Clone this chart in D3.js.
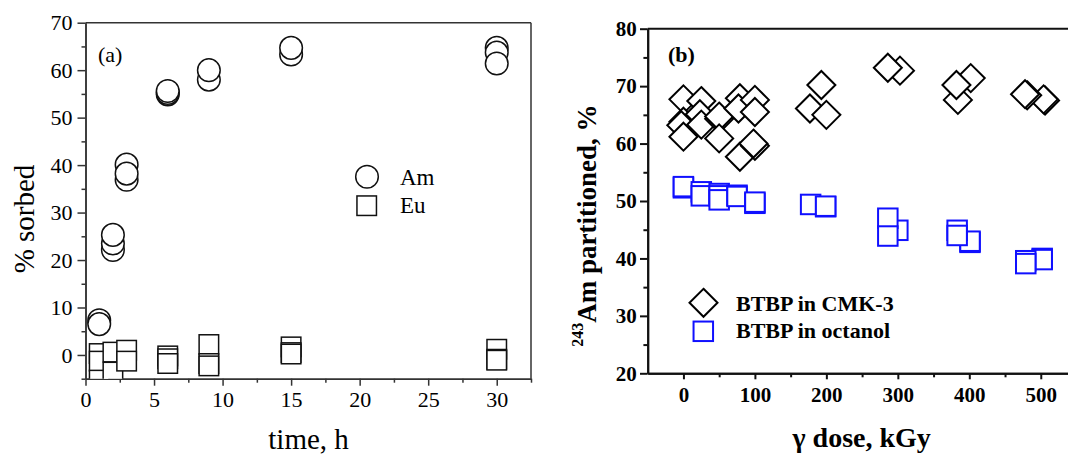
<!DOCTYPE html>
<html><head><meta charset="utf-8">
<script src="https://cdn.jsdelivr.net/npm/d3@7"></script>
<style>
body{margin:0;background:#fff;}
svg{display:block;}
text{font-family:"Liberation Serif","Times New Roman",serif;}
</style>
</head><body>
<svg id="c" width="1068" height="457"></svg>
<script>
// ---------- Panel (a) data ----------
const timeAm = [1,1, 2,2,2, 3,3,3, 6,6,6, 9,9, 15,15, 30,30,30];
const amSorbed = [7.3,6.5, 22.1,23.5,25.3, 36.9,40.1,38.2, 54.9,55.2,55.6, 58.0,60.0, 63.3,64.7, 64.7,63.7,61.4];
const timeEu = [1,1,1, 2,2, 3,3, 6,6,6, 9,9,9, 15,15,15, 30,30,30];
const euSorbed = [0.3,-1.3,-5.3, 0.6,-3.6, 1.0,-1.3, -0.2,-0.8,-1.8, 2.2,-1.8,-2.3, 1.7,0.5,0.2, 1.2,-0.9,-1.1];
const xTicksA = [0,5,10,15,20,25,30];
const xMinorA = [2.5,7.5,12.5,17.5,22.5,27.5,32.5];
const yTicksA = [0,10,20,30,40,50,60,70];
const yMinorA = [-5,5,15,25,35,45,55,65];
const legendA = ["Am","Eu"];

// ---------- Panel (b) data ----------
const doseCMK = [0,0,-3,0, 25,23,25, 50,50,50, 79,77,79, 100,100,100,98, 177,193,200, 303,286, 402,384,382, 506,504,481,478];
const amCMK   = [67.7,63.8,63.2,61.2, 67.4,65.1,63.3, 64.3,64.7,60.9, 67.9,66.1,57.7, 67.6,65.5,59.6,60.0, 66.1,70.2,65.0, 72.7,73.2, 71.4,67.6,70.2, 67.5,67.7,68.4,68.6];
const doseOct = [0,0, 25,25, 50,50,50, 75,75, 100,100, 178, 199,199, 300,286,286, 401,401,383,383, 502,502,479,479];
const amOct   = [52.3,52.5, 51.6,50.9, 51.3,50.9,50.2, 51.0,50.8, 49.6,49.8, 49.4, 49.0,49.1, 44.9,47.0,43.9, 42.8,43.0,44.9,44.0, 40.0,39.8,39.6,39.1];
const xTicksB = [0,100,200,300,400,500];
const xMinorB = [50,150,250,350,450,550];
const yTicksB = [20,30,40,50,60,70,80];
const yMinorB = [25,35,45,55,65,75];
const legendB = ["BTBP in CMK-3","BTBP in octanol"];

const svg = d3.select("#c");
const BLUE = "#1010ff";

// ================= Panel (a) =================
const xA = d3.scaleLinear().domain([0,32.5]).range([85.5,531]);
const yA = d3.scaleLinear().domain([-5,70]).range([378.7,22.7]);
const gA = svg.append("g");
const axColA = "#333";

gA.append("defs").append("clipPath").attr("id","clipA")
  .append("rect").attr("x",xA(0)).attr("y",yA(70)).attr("width",xA(32.5)-xA(0)).attr("height",yA(-5)-yA(70));

// frame top/right
gA.append("line").attr("x1",xA(0)).attr("x2",xA(32.5)).attr("y1",yA(70)).attr("y2",yA(70)).attr("stroke",axColA).attr("stroke-width",1.5);
gA.append("line").attr("x1",xA(32.5)).attr("x2",xA(32.5)).attr("y1",yA(70)).attr("y2",yA(-5)).attr("stroke",axColA).attr("stroke-width",1.5);

function styleAxis(g, col, w, fs, weight){
  g.select(".domain").attr("stroke",col).attr("stroke-width",w);
  g.selectAll(".tick line").attr("stroke",col).attr("stroke-width",w);
  g.selectAll(".tick text").attr("fill","#000").style("font-size",fs+"px").style("font-weight",weight)
    .style("font-family",'"Liberation Serif","Times New Roman",serif');
}
const axBA = gA.append("g").attr("transform",`translate(0,${yA(-5)})`)
  .call(d3.axisBottom(xA).tickValues(xTicksA).tickSize(7).tickSizeOuter(0).tickPadding(6).tickFormat(d3.format("d")));
styleAxis(axBA, axColA, 1.5, 22, "normal");
const axBAm = gA.append("g").attr("transform",`translate(0,${yA(-5)})`)
  .call(d3.axisBottom(xA).tickValues(xMinorA).tickSize(4).tickSizeOuter(0).tickFormat(""));
styleAxis(axBAm, axColA, 1.5, 22, "normal");
const axLA = gA.append("g").attr("transform",`translate(${xA(0)},0)`)
  .call(d3.axisLeft(yA).tickValues(yTicksA).tickSize(8).tickSizeOuter(0).tickPadding(5).tickFormat(d3.format("d")));
styleAxis(axLA, axColA, 1.5, 22, "normal");
const axLAm = gA.append("g").attr("transform",`translate(${xA(0)},0)`)
  .call(d3.axisLeft(yA).tickValues(yMinorA).tickSize(4).tickSizeOuter(0).tickFormat(""));
styleAxis(axLAm, axColA, 1.5, 22, "normal");

const mA = gA.append("g").attr("clip-path","url(#clipA)");
const SQ = 19.5;
mA.selectAll("rect.eu").data(euSorbed).join("rect").attr("class","eu")
  .attr("x",(d,i)=>xA(timeEu[i])-SQ/2).attr("y",d=>yA(d)-SQ/2)
  .attr("width",SQ).attr("height",SQ).attr("fill","#fff").attr("stroke","#111").attr("stroke-width",1.5);
mA.selectAll("circle.am").data(amSorbed).join("circle").attr("class","am")
  .attr("cx",(d,i)=>xA(timeAm[i])).attr("cy",d=>yA(d)).attr("r",11.3)
  .attr("fill","#fff").attr("stroke","#111").attr("stroke-width",1.5);

// legend (a)
gA.append("circle").attr("cx",367).attr("cy",176.7).attr("r",11.3).attr("fill","#fff").attr("stroke","#111").attr("stroke-width",1.5);
gA.append("rect").attr("x",366.7-SQ/2).attr("y",205.7-SQ/2).attr("width",SQ).attr("height",SQ).attr("fill","#fff").attr("stroke","#111").attr("stroke-width",1.5);
gA.append("text").attr("x",400).attr("y",184.5).style("font-size","23px").text(legendA[0]);
gA.append("text").attr("x",400).attr("y",213.3).style("font-size","23px").text(legendA[1]);
gA.append("text").attr("x",98).attr("y",62).style("font-size","22px").text("(a)");

// titles (a)
gA.append("text").attr("x",308.6).attr("y",449).attr("text-anchor","middle").style("font-size","29px").text("time, h");
gA.append("text").attr("transform","translate(34,219) rotate(-90)").attr("text-anchor","middle").style("font-size","29px").text("% sorbed");

// ================= Panel (b) =================
const xB = d3.scaleLinear().domain([-50,550]).range([647.7,1076.5]);
const yB = d3.scaleLinear().domain([20,80]).range([373.3,28.7]);
const gB = svg.append("g");

gB.append("line").attr("x1",xB(-50)).attr("x2",xB(550)).attr("y1",yB(80)).attr("y2",yB(80)).attr("stroke","#111").attr("stroke-width",2);
gB.append("line").attr("x1",xB(550)).attr("x2",xB(550)).attr("y1",yB(80)).attr("y2",yB(20)).attr("stroke","#111").attr("stroke-width",2);

const axBB = gB.append("g").attr("transform",`translate(0,${yB(20)})`)
  .call(d3.axisBottom(xB).tickValues(xTicksB).tickSize(6).tickSizeOuter(0).tickPadding(7.5).tickFormat(d3.format("d")));
styleAxis(axBB, "#111", 2, 21, "bold");
const axBBm = gB.append("g").attr("transform",`translate(0,${yB(20)})`)
  .call(d3.axisBottom(xB).tickValues(xMinorB).tickSize(4).tickSizeOuter(0).tickFormat(""));
styleAxis(axBBm, "#111", 2, 21, "bold");
const axLB = gB.append("g").attr("transform",`translate(${xB(-50)},0)`)
  .call(d3.axisLeft(yB).tickValues(yTicksB).tickSize(7.7).tickSizeOuter(0).tickPadding(3.3).tickFormat(d3.format("d")));
styleAxis(axLB, "#111", 2, 21, "bold");
const axLBm = gB.append("g").attr("transform",`translate(${xB(-50)},0)`)
  .call(d3.axisLeft(yB).tickValues(yMinorB).tickSize(4.3).tickSizeOuter(0).tickFormat(""));
styleAxis(axLBm, "#111", 2, 21, "bold");

const DH = 14; // diamond half-diagonal
const diamond = (cx,cy)=>`M${cx},${cy-DH}L${cx+DH},${cy}L${cx},${cy+DH}L${cx-DH},${cy}Z`;
gB.selectAll("path.cmk").data(amCMK).join("path").attr("class","cmk")
  .attr("d",(d,i)=>diamond(xB(doseCMK[i]),yB(d)))
  .attr("fill","#fff").attr("stroke","#000").attr("stroke-width",2);
gB.selectAll("rect.oct").data(amOct).join("rect").attr("class","oct")
  .attr("x",(d,i)=>xB(doseOct[i])-SQ/2).attr("y",d=>yB(d)-SQ/2)
  .attr("width",SQ).attr("height",SQ).attr("fill","#fff").attr("stroke",BLUE).attr("stroke-width",2);

// legend (b)
gB.append("path").attr("d",diamond(703.5,302.8)).attr("fill","#fff").attr("stroke","#000").attr("stroke-width",2);
gB.append("rect").attr("x",703.3-SQ/2).attr("y",331.3-SQ/2).attr("width",SQ).attr("height",SQ).attr("fill","#fff").attr("stroke",BLUE).attr("stroke-width",2);
gB.append("text").attr("x",736).attr("y",310.7).style("font-size","22px").style("font-weight","bold").text(legendB[0]);
gB.append("text").attr("x",736).attr("y",338.3).style("font-size","22px").style("font-weight","bold").text(legendB[1]);
gB.append("text").attr("x",668).attr("y",62).style("font-size","22px").style("font-weight","bold").text("(b)");

// titles (b)
gB.append("text").attr("x",861.7).attr("y",447).attr("text-anchor","middle")
  .style("font-size","28px").style("font-weight","bold").text("γ dose, kGy");
const yt = gB.append("text").attr("transform","translate(596,346.7) rotate(-90)")
  .style("font-weight","bold");
yt.append("tspan").attr("dy",-13).style("font-size","16px").text("243");
yt.append("tspan").attr("dy",13).style("font-size","27px").text("Am partitioned, %");
</script>
</body></html>
